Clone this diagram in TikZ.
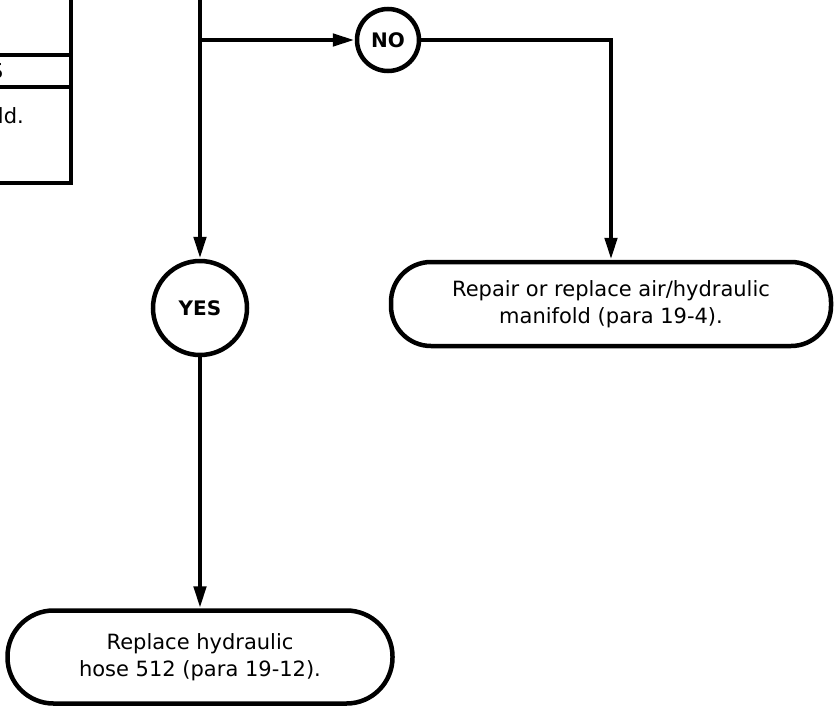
\documentclass[tikz,border=0pt]{standalone}
\usepackage{fontspec}
\setmainfont{DejaVu Sans}
\usetikzlibrary{arrows.meta, positioning}

\begin{document}
\begin{tikzpicture}[x=1pt, y=-1pt,
            dec/.style={circle, draw=black, line width=4.5pt, minimum size=#1, inner sep=0pt,
                        font=\fontsize{20}{24}\selectfont\bfseries},
            act/.style={rectangle, draw=black, line width=4.5pt, align=center,
                        font=\fontsize{21}{27}\selectfont},
            ln/.style={draw=black, line width=4.5pt},
            arr/.style={ln, -{Triangle[length=22pt, width=12pt]}}]
            \useasboundingbox (0,0) rectangle (834,707);
            \clip (0,0) rectangle (834,707);
            % part of the previous box
            \node[draw, line width=4.5pt, outer sep=0pt, minimum width=300pt, minimum height=260pt,
                  anchor=south east] (prev) at (71,183) {};
            \coordinate (h1) at (0,55);
            \coordinate (h2) at (0,87);
            \draw[ln] (prev.west |- h1) -- (prev.east |- h1);
            \draw[ln] (prev.west |- h2) -- (prev.east |- h2);
            \node[anchor=base east, inner sep=0pt, font=\fontsize{21}{27}\selectfont] (hd) at (3.5,78) {S};
            \node[anchor=base east, inner sep=0pt, font=\fontsize{21}{27}\selectfont] (tl) at (24,123) {ld.};
            % decisions and actions
            \coordinate (top) at (200,-5);
            \coordinate (br) at (200,40);
            \node[dec=62pt] (no) at (388,40) {NO};
            \node[dec=94pt] (yes) at (200,308) {YES};
            \node[act, rounded corners=40pt, minimum width=440pt, minimum height=84pt] (fix) at (611,304)
                {Repair or replace air/hydraulic\\manifold (para 19-4).};
            \node[act, rounded corners=46pt, minimum width=385pt, minimum height=93pt] (hose) at (200,657)
                {Replace hydraulic\\hose 512 (para 19-12).};
            \draw[arr] (top) -- (yes);
            \draw[arr] (br) -- (no);
            \draw[arr] (no) -| (fix);
            \draw[arr] (yes) -- (hose);
        \end{tikzpicture}
\end{document}
